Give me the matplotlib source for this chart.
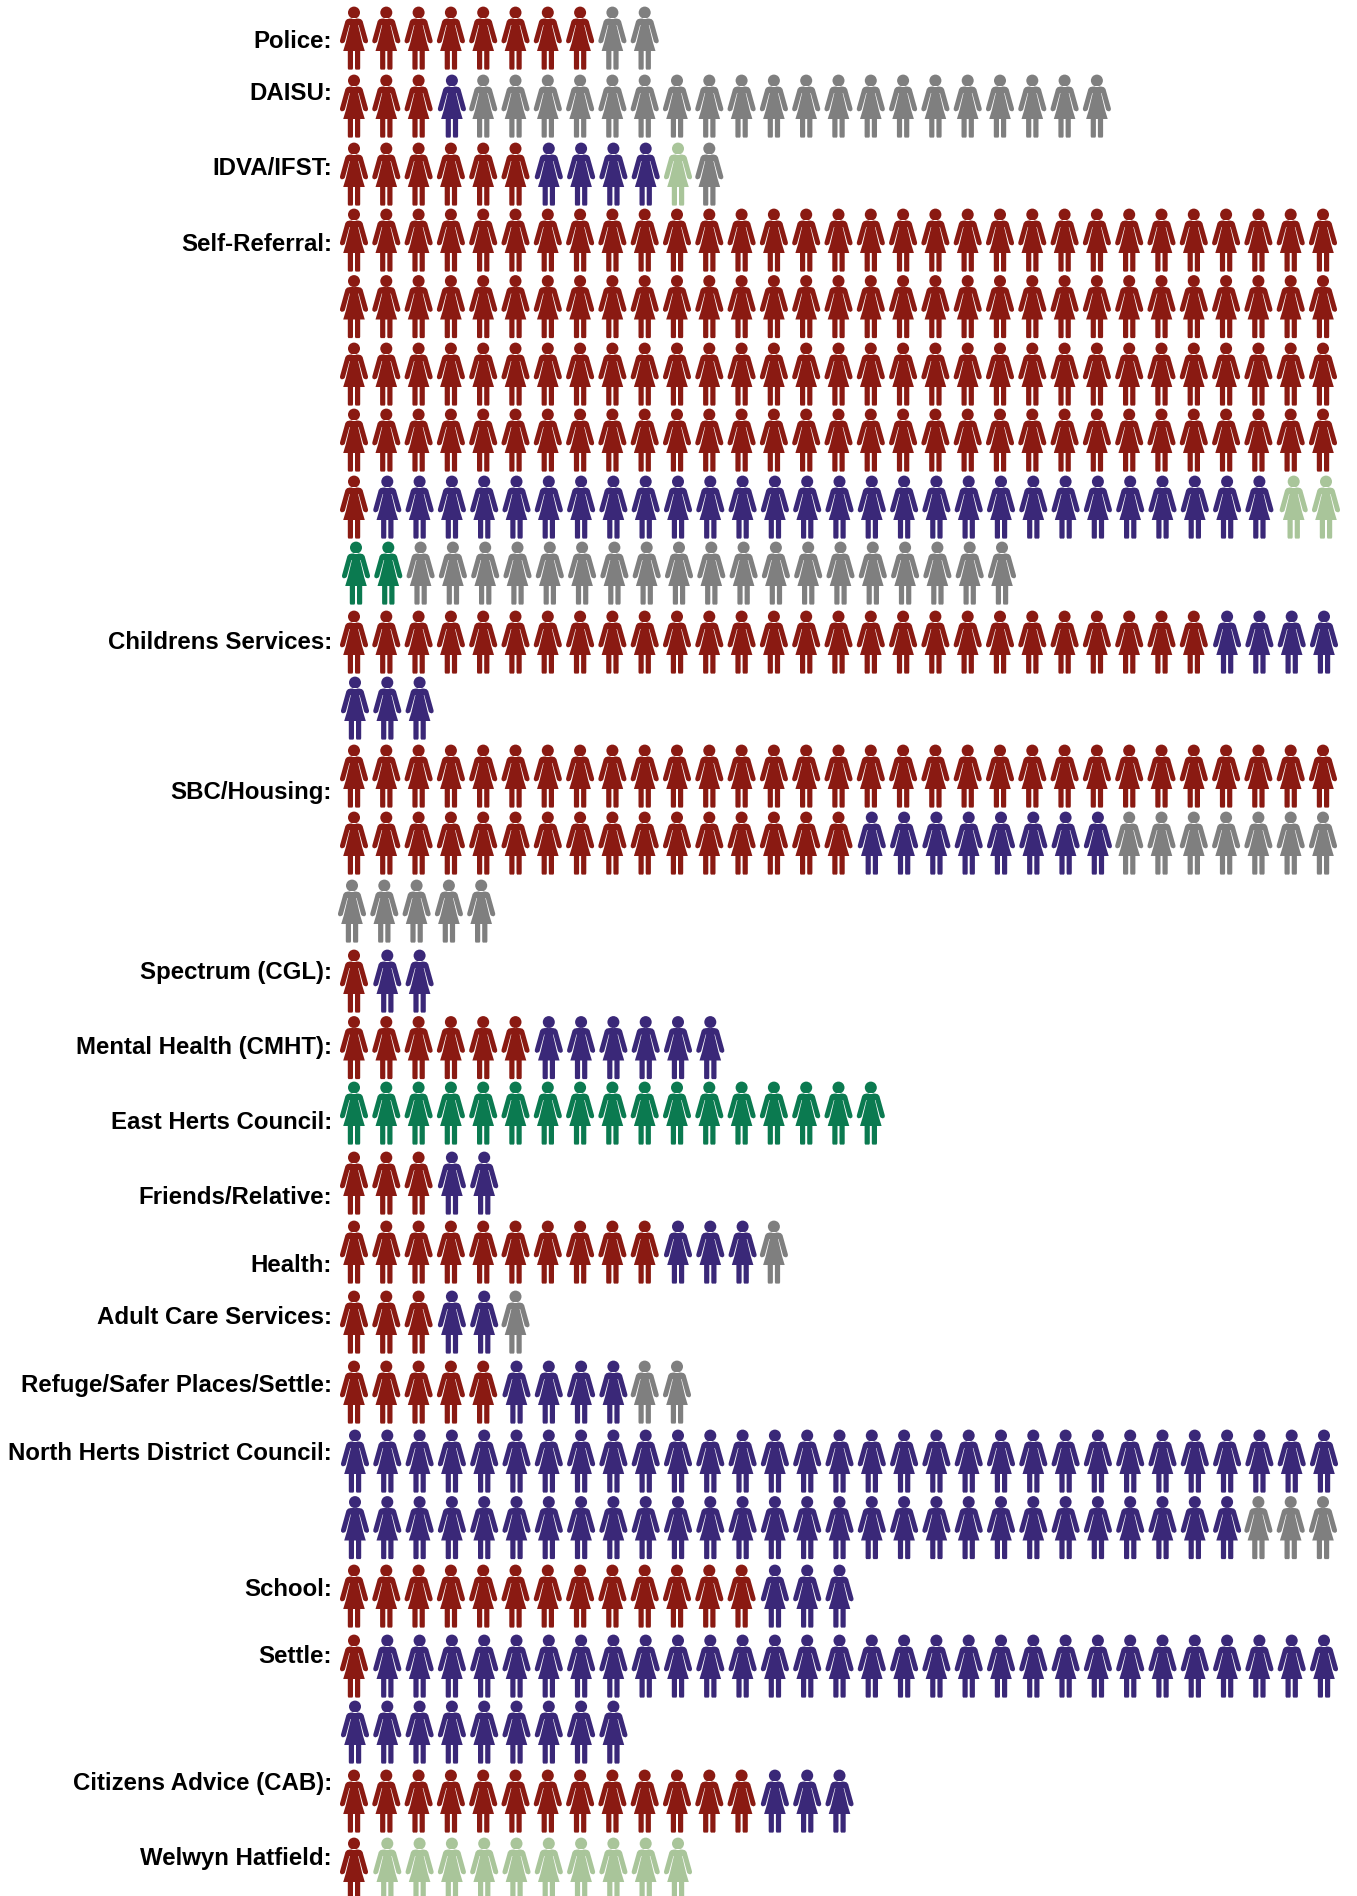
import matplotlib
matplotlib.use("Agg")
import matplotlib.pyplot as plt
from matplotlib.path import Path
from matplotlib.patches import PathPatch
from matplotlib.transforms import Affine2D

categories = ["Police", "DAISU", "IDVA/IFST", "Self-Referral", "Childrens Services",
              "SBC/Housing", "Spectrum (CGL)", "Mental Health (CMHT)", "East Herts Council",
              "Friends/Relative", "Health", "Adult Care Services", "Refuge/Safer Places/Settle",
              "North Herts District Council", "School", "Settle", "Citizens Advice (CAB)",
              "Welwyn Hatfield"]

red_counts = [8, 3, 6, 125, 27, 47, 1, 6, 0, 3, 10, 3, 5, 0, 13, 1, 13, 1]
purple_counts = [0, 1, 4, 28, 7, 8, 2, 6, 0, 2, 3, 2, 4, 59, 3, 39, 3, 0]
pale_counts = [0, 0, 1, 2, 0, 0, 0, 0, 0, 0, 0, 0, 0, 0, 0, 0, 0, 10]
green_counts = [0, 0, 0, 2, 0, 0, 0, 0, 17, 0, 0, 0, 0, 0, 0, 0, 0, 0]
gray_counts = [2, 20, 1, 19, 0, 12, 0, 0, 0, 0, 1, 1, 2, 3, 0, 0, 0, 0]

RED = "#8a1a12"
PURPLE = "#3a2878"
PALE = "#a9c59a"
GREEN = "#0b7a50"
GRAY = "#7f7f7f"

# layout, all in pixels of the output image
PER_ROW = 31
LEFT = 340
STEP = 32.3
label_right = 332
label_base = [48, 100, 175, 251, 649, 799, 979, 1054, 1129, 1204, 1272, 1324, 1392,
              1460, 1596, 1663, 1790, 1865]
row_tops = [7, 75, 143, 209, 275.5, 343, 409, 476, 542, 611, 677, 745, 812, 880, 950,
            1016.5, 1082, 1152, 1221, 1291, 1361, 1430, 1496.5, 1565, 1635, 1701, 1770, 1838]
row_shift = {8: 2, 13: -2}
colour_shift = {RED: 0, PURPLE: 1, PALE: 1, GREEN: 0, GRAY: 0}
extra_shift = {(7, PALE): 2}


def woman_path():
    # left half of the figure, top to bottom, mirrored for the right half
    half = [(14, 11.4), (9.5, 11.6), (7, 12.2), (5.4, 14), (0, 33.4), (0.1, 35.2),
            (1.8, 36.4), (3.8, 35.8), (4.8, 34.8), (9.4, 18), (9.9, 18), (5.8, 35.4),
            (3.2, 44), (7.8, 44), (7.8, 61.4), (8.4, 62.6), (12.4, 62.6), (13, 61.4),
            (13, 44), (14, 44)]
    body = half + [(28 - x, y) for x, y in reversed(half)]
    verts = list(body) + [body[0]]
    codes = [Path.MOVETO] + [Path.LINETO] * (len(body) - 1) + [Path.CLOSEPOLY]
    head = Path.circle((14, 5.6), 6)
    return Path.make_compound_path(Path(verts, codes), head)


def expand_colours(i):
    colours = [RED] * red_counts[i] + [PURPLE] * purple_counts[i] + [PALE] * pale_counts[i]
    colours += [GREEN] * green_counts[i] + [GRAY] * gray_counts[i]
    return colours


def main():
    plt.rcParams["font.family"] = ["Liberation Sans", "DejaVu Sans"]
    fig = plt.figure(figsize=(13.57, 18.96), dpi=100)
    ax = fig.add_axes([0, 0, 1, 1])
    ax.set_xlim(0, 1357)
    ax.set_ylim(1896, 0)
    ax.axis("off")

    icon = woman_path()
    row = 0
    for i, name in enumerate(categories):
        ax.text(label_right, label_base[i], name + ":", ha="right", va="baseline",
                fontsize=17.25, fontweight="bold", color="black")
        colours = expand_colours(i)
        for start in range(0, len(colours), PER_ROW):
            for col, c in enumerate(colours[start:start + PER_ROW]):
                x = LEFT + col * STEP + row_shift.get(row, 0) + colour_shift[c]
                x += extra_shift.get((row, c), 0)
                trans = Affine2D().translate(x, row_tops[row]) + ax.transData
                ax.add_patch(PathPatch(icon, facecolor=c, edgecolor="none", transform=trans))
            row += 1

    fig.savefig("out.png", dpi=100, facecolor="white")


if __name__ == "__main__":
    main()
